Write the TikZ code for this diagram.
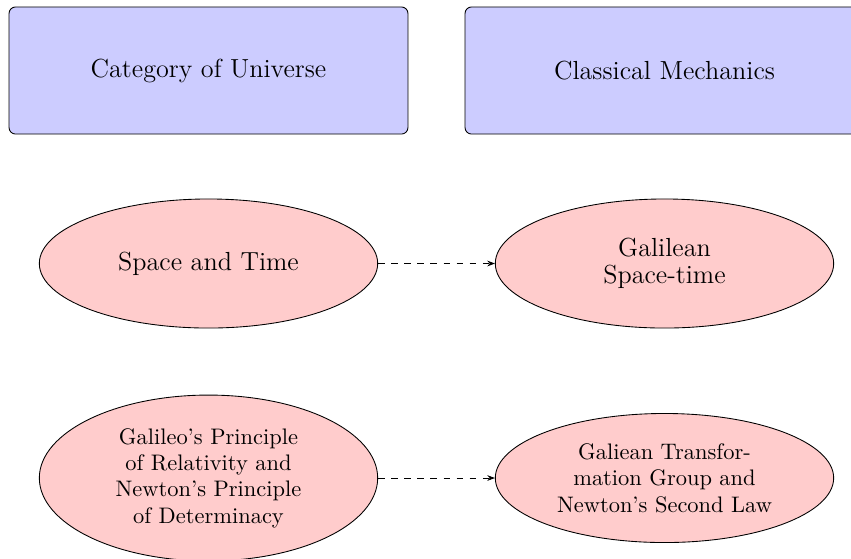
\documentclass[tikz,border=0pt]{standalone}
\usetikzlibrary{shapes.geometric,arrows.meta}
\begin{document}
\begin{tikzpicture}[x={(0.4587pt,0)},y={(0,-0.4587pt)},
  catbox/.style={draw,fill=blue!20,rounded corners=3pt,minimum width=183pt,minimum height=58.3pt,inner sep=0pt,font=\large,align=center},
  ell/.style={draw,ellipse,fill=red!20,minimum width=155.2pt,minimum height=59.2pt,inner sep=0pt,align=center},
  bigtxt/.style={font=\fontsize{12}{12.4}\selectfont},
  smalltxt/.style={font=\fontsize{10.3}{12.1}\selectfont},
  link/.style={draw,dashed,-{Stealth[length=3.5pt,width=2.6pt]}}]
\clip (0,0) rectangle (851,558);
\useasboundingbox (0,0) rectangle (851,558);
\node[catbox] (cat) at (208.5,70.5) {Category of Universe};
\node[catbox] (cm) at (664.5,70.5) {Classical Mechanics};
\node[ell,bigtxt] (st) at (208.5,263.5) {Space and Time};
\node[ell,bigtxt] (gst) at (664.5,263.5) {Galilean\\Space-time};
\node[ell,smalltxt,minimum height=76.1pt] (pr) at (208.5,478) {Galileo's Principle\\of Relativity and\\Newton's Principle\\of Determinacy};
\node[ell,smalltxt] (gt) at (664.5,478) {Galiean Transfor-\\mation Group and\\Newton's Second Law};
\draw[link] (st) -- (gst);
\draw[link] (pr) -- (gt);
\end{tikzpicture}
\end{document}
